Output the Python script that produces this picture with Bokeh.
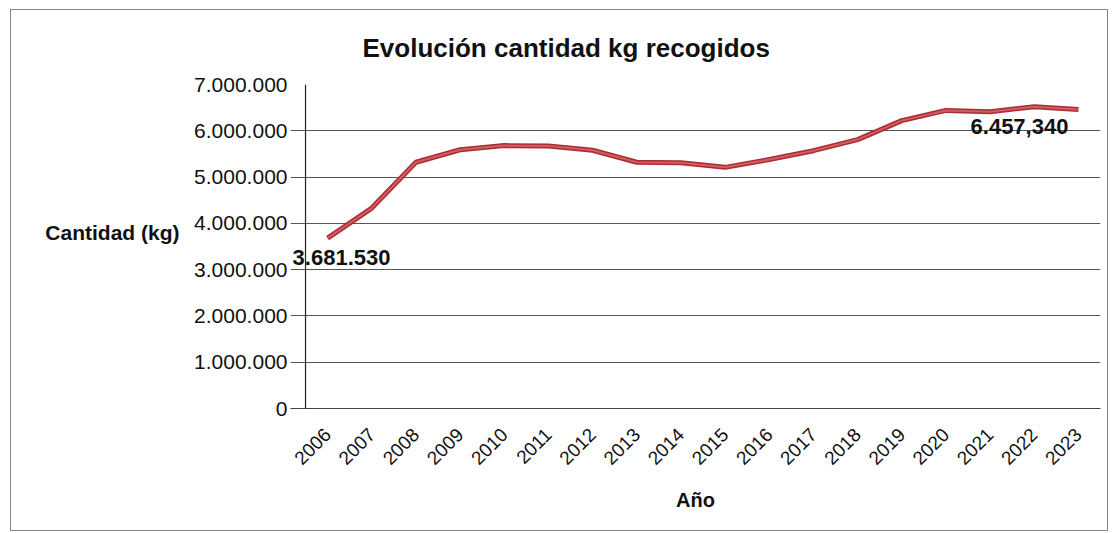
from bokeh.plotting import figure
from bokeh.models import Range1d, FixedTicker, CustomJSTickFormatter, Label, Span, LinearAxis
from bokeh.embed import file_html
from bokeh.resources import INLINE
import math

years = list(range(2006, 2024))
kg = [3681530, 4330000, 5320000, 5590000, 5680000, 5670000, 5580000, 5320000, 5310000,
      5210000, 5380000, 5570000, 5810000, 6220000, 6440000, 6410000, 6520000, 6457340]
y_ticks = [0, 1000000, 2000000, 3000000, 4000000, 5000000, 6000000, 7000000]
label_years = [2006, 2023]
label_texts = ["3.681.530", "6.457,340"]
y_title = "Cantidad (kg)"

FONT = "Liberation Sans"

p = figure(width=1098, height=522,
           x_range=Range1d(years[0] - 0.5 - 0.34, years[-1] + 0.5),
           y_range=Range1d(0, 7000000),
           output_backend="svg", toolbar_location=None,
           min_border_left=279, min_border_right=9, min_border_top=74, min_border_bottom=124)
p.styles = {"border": "1px solid #888888", "margin-left": "10px", "margin-top": "9px"}

p.title.text = "Evolución cantidad kg recogidos"
p.title.text_font = FONT
p.title.text_font_size = "26px"
p.title.text_font_style = "bold"
p.title.text_color = "#111111"
p.title.align = "left"
p.title.vertical_align = "top"
p.title.offset = 72
p.title.standoff = 40

p.outline_line_color = None
p.xgrid.grid_line_color = None
p.ygrid.grid_line_color = "#555555"
p.ygrid.grid_line_width = 1.2

p.yaxis.ticker = FixedTicker(ticks=y_ticks)
p.yaxis.formatter = CustomJSTickFormatter(code="return Math.round(tick).toString().replace(/\\B(?=(\\d{3})+(?!\\d))/g, '.');")
p.yaxis.axis_line_color = None
p.yaxis.major_tick_line_color = None
p.yaxis.major_tick_out = 0
p.yaxis.major_tick_in = 0
p.yaxis.minor_tick_line_color = None
p.yaxis.major_label_text_font = FONT
p.yaxis.major_label_text_font_size = "21px"
p.yaxis.major_label_text_color = "#111111"
p.yaxis.major_label_standoff = 3

# y-axis title placed beside the 4.000.000 level, as in the original
title_axis = LinearAxis(ticker=FixedTicker(ticks=[3800000]),
                        major_label_overrides={3800000: y_title},
                        axis_line_color=None, major_tick_line_color=None,
                        minor_tick_line_color=None, major_tick_out=0, major_tick_in=0,
                        major_label_standoff=12,
                        major_label_text_font=FONT, major_label_text_font_size="21px",
                        major_label_text_font_style="bold", major_label_text_color="#111111")
p.add_layout(title_axis, "left")

p.add_layout(Span(location=years[0] - 0.5, dimension="height", line_color="#222222", line_width=1.2))

p.xaxis.ticker = FixedTicker(ticks=years)
p.xaxis.formatter = CustomJSTickFormatter(code="return Math.round(tick).toString();")
p.xaxis.axis_line_color = "#444444"
p.xaxis.axis_line_width = 1.2
p.xaxis.major_tick_line_color = None
p.xaxis.minor_tick_line_color = None
p.xaxis.major_tick_out = 0
p.xaxis.major_label_orientation = math.pi / 4
p.xaxis.major_label_text_font = FONT
p.xaxis.major_label_text_font_size = "19px"
p.xaxis.major_label_text_color = "#111111"
p.xaxis.major_label_standoff = 23
p.xaxis.axis_label = "Año"
p.xaxis.axis_label_text_font = FONT
p.xaxis.axis_label_text_font_size = "20px"
p.xaxis.axis_label_text_font_style = "bold"
p.xaxis.axis_label_text_color = "#111111"
p.xaxis.axis_label_standoff = 15

p.line(x=years, y=kg, line_width=5, line_color="#a82e35")
p.line(x=years, y=kg, line_width=2, line_color="#d45a60")

i0 = years.index(label_years[0])
i1 = years.index(label_years[1])
p.add_layout(Label(x=years[i0], y=kg[i0], x_offset=-35, y_offset=-19, text=label_texts[0],
                   text_align="left", text_baseline="middle", text_font=FONT,
                   text_font_size="22px", text_font_style="bold", text_color="#111111"))
p.add_layout(Label(x=years[i1], y=kg[i1], x_offset=-10, y_offset=-17, text=label_texts[1],
                   text_align="right", text_baseline="middle", text_font=FONT,
                   text_font_size="22px", text_font_style="bold", text_color="#111111"))

open("out.html", "w").write(file_html(p, INLINE))
